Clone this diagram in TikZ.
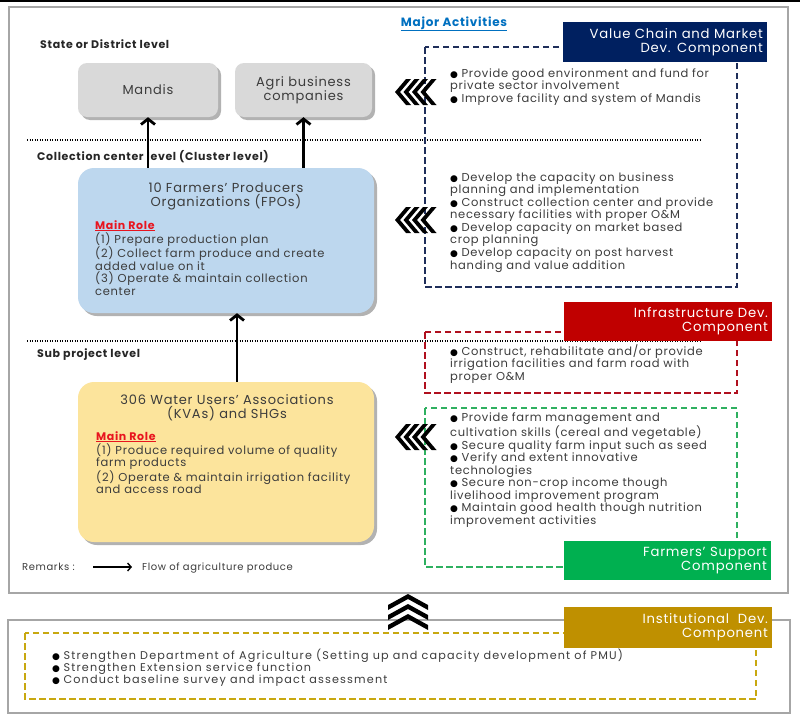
\documentclass[tikz,border=0pt]{standalone}
\usepackage{fontspec}
\setmainfont{Poppins}[LetterSpace=6]
\newfontfamily\widefont{Poppins}[LetterSpace=10.5]
\newfontfamily\dejavu{DejaVu Sans}
\usetikzlibrary{shadows,calc,arrows.meta}
\definecolor{navyfill}{HTML}{002060}
\definecolor{navydash}{HTML}{1F2E5A}
\definecolor{redfill}{HTML}{C00000}
\definecolor{reddash}{HTML}{B0101E}
\definecolor{greenfill}{HTML}{00B050}
\definecolor{greendash}{HTML}{2EB060}
\definecolor{goldfill}{HTML}{BF9000}
\definecolor{golddash}{HTML}{C8A810}
\definecolor{fpofill}{HTML}{BDD7EE}
\definecolor{wuafill}{HTML}{FCE49C}
\definecolor{mandfill}{HTML}{D9D9D9}
\definecolor{textgray}{HTML}{3C3C3C}
\definecolor{framegray}{HTML}{A6A6A6}
\definecolor{rolered}{HTML}{E8141E}
\definecolor{titleblue}{HTML}{0070C0}
\newcommand\bul{{\color{black}\dejavu\fontsize{9}{8}\selectfont ●}\hspace{3.5pt}}
\newcommand\fl{\rule{0pt}{10pt}}
\newcommand\mainrole{{\fontsize{11}{12}\selectfont\bfseries\color{rolered}\underline{Main Role}}}
\begin{document}
\begin{tikzpicture}[x=1pt,y=-1pt,
  txt/.style={inner sep=0pt, anchor=north west, align=left, text=textgray,
    font=\fontsize{11.5}{12.55}\selectfont},
  titletxt/.style={inner sep=0pt, anchor=north, align=center, text=textgray,
    font=\fontsize{13}{14}\selectfont},
  leveltxt/.style={inner sep=0pt, anchor=base west, text=black!85,
    font=\fontsize{11}{12}\selectfont\bfseries},
  smalltxt/.style={inner sep=0pt, anchor=base west, text=textgray,
    font=\fontsize{10}{11}\selectfont},
  roundbox/.style={draw=none, rounded corners=16pt, inner sep=0pt,
    drop shadow={shadow xshift=3pt, shadow yshift=-3pt, fill=black!55, opacity=0.55}},
  graybox/.style={roundbox, rounded corners=9pt, fill=mandfill, text=textgray, align=center,
    font=\fontsize{13}{13}\selectfont},
  lab/.style={inner xsep=4pt, inner ysep=0pt, align=right, text=white,
    font=\fontsize{13.2}{14}\selectfont},
  dbox/.style={line width=2pt, dash pattern=on 6.5pt off 3.5pt},
  dots/.style={line width=1.3pt, dash pattern=on 1.3pt off 1.2pt},
  flow/.style={line width=2.8pt, -{Straight Barb[length=5.5pt, width=14pt]}},
]
\useasboundingbox (0,0) rectangle (800,720);
\fill[white] (0,0) rectangle (800,720);
\fill[black] (0,0) rectangle (800,2);
% frames
\draw[framegray, line width=1.5pt] (9,7) rectangle (788,593);
\draw[framegray, line width=1.5pt] (8,620) rectangle (790,713);
% title
\node[inner sep=0pt, anchor=base, text=titleblue, font=\fontsize{12}{12}\selectfont\bfseries] (major) at (454,26) {\underline{Major Activities}};
% level labels and dotted lines
\node[leveltxt] (lv1) at (40,48) {State or District level};
\draw[dots] (27,140) -- (700,140);
\node[leveltxt] (lv2) at (37,160) {Collection center level (Cluster level)};
\draw[dots] (27,341) -- (700,341);
\node[leveltxt] (lv3) at (37,357) {Sub project level};
% dashed boxes
\draw[dbox, navydash] (425,47) rectangle (737,287);
\draw[dbox, reddash] (425,332) rectangle (737,393);
\draw[dbox, greendash] (425,408) rectangle (737,567);
\draw[dbox, golddash] (25,633) rectangle (756,699);
% component labels
\node[lab, fill=navyfill, minimum width=204pt, minimum height=40pt, text width=196pt] (vcl) at (665,42) {Value Chain and Market\\Dev. Component};
\node[lab, fill=redfill, minimum width=208pt, minimum height=39pt, text width=200pt] (infl) at (668,321.5) {Infrastructure Dev.\\Component};
\node[lab, fill=greenfill, minimum width=207pt, minimum height=39pt, text width=199pt] (fsl) at (667.5,560.5) {Farmers' Support\\Component};
\node[lab, fill=goldfill, minimum width=208pt, minimum height=41pt, text width=200pt] (idl) at (668,627.5) {Institutional\ \ Dev.\\Component};
% boxes on the left
\node[graybox, minimum width=140pt, minimum height=54pt] (mandis) at (148,90) {Mandis};
\node[graybox, minimum width=137pt, minimum height=54pt] (agri) at (303.5,90) {Agri business\\companies};
\node[roundbox, fill=fpofill, minimum width=296pt, minimum height=145pt] (fpo) at (226,240.5) {};
\node[roundbox, fill=wuafill, minimum width=296pt, minimum height=160pt] (wua) at (226,462) {};
\node[titletxt] (fpot) at (226,183) {10 Farmers' Producers\\Organizations (FPOs)};
\node[txt] (fpor) at (95,219) {\fl\mainrole\\(1) Prepare production plan\\(2) Collect farm produce and create\\added value on it\\(3) Operate \& maintain collection\\center};
\node[titletxt] (wuat) at (227,394) {306 Water Users' Associations\\(KVAs) and SHGs};
\node[txt] (wuar) at (96,430) {\fl\mainrole\\(1) Produce required volume of quality\\farm products\\(2) Operate \& maintain irrigation facility\\and access road};
% flow arrows
\draw[flow] (fpo.north -| mandis.south) -- (mandis.south);
\draw[flow] (fpo.north -| agri.south) -- (agri.south);
\draw[flow] ($(wua.north)+(11,0)$) -- ($(fpo.south)+(11,0)$);
% remarks
\node[smalltxt] (rem) at (22,570) {Remarks :};
\coordinate (ra) at (93,567);
\coordinate (rb) at (132,567);
\draw[line width=1.4pt, -{Straight Barb[length=3.5pt, width=8pt]}] (ra) -- (rb);
\node[smalltxt] (flowtxt) at (142,570) {Flow of agriculture produce};
% activity texts
\node[txt] (vct1) at (450,67) {\fl\bul Provide good environment and fund for\\private sector involvement\\\bul Improve facility and system of Mandis};
\node[txt] (vct2) at (450,171) {\fl\bul Develop the capacity on business\\planning and implementation\\\bul Construct collection center and provide\\necessary facilities with proper O\&M\\\bul Develop capacity on market based\\crop planning\\\bul Develop capacity on post harvest\\handing and value addition};
\node[txt] (inft) at (450,344) {\fl\bul Construct, rehabilitate and/or provide\\irrigation facilities and farm road with\\proper O\&M};
\node[txt] (fst) at (450,411.5) {\fl\bul Provide farm management and\\cultivation skills (cereal and vegetable)\\\bul Secure quality farm input such as seed\\\bul Verify and extent innovative\\technologies\\\bul Secure non-crop income though\\livelihood improvement program\\\bul Maintain good health though nutrition\\improvement activities};
\node[txt, font=\widefont\fontsize{11.2}{12}\selectfont] (idt) at (52,649) {\fl\bul Strengthen Department of Agriculture (Setting up and capacity development of PMU)\\\bul Strengthen Extension service function\\\bul Conduct baseline survey and impact assessment};
% chevrons pointing left
\foreach \cy in {92,220,437}{
  \foreach \cx in {395,403.5,412,420.5}{
    \fill[black] (\cx,\cy) -- ++(11,-13) -- ++(5,0) -- ++(-11,13) -- ++(11,13) -- ++(-5,0) -- cycle;
  }
}
% chevrons pointing up
\foreach \yy in {594,604,614}{
  \fill[black] (408,\yy) -- (428,\yy+11) -- (428,\yy+16) -- (408,\yy+5) -- (388,\yy+16) -- (388,\yy+11) -- cycle;
}
\end{tikzpicture}
\end{document}
